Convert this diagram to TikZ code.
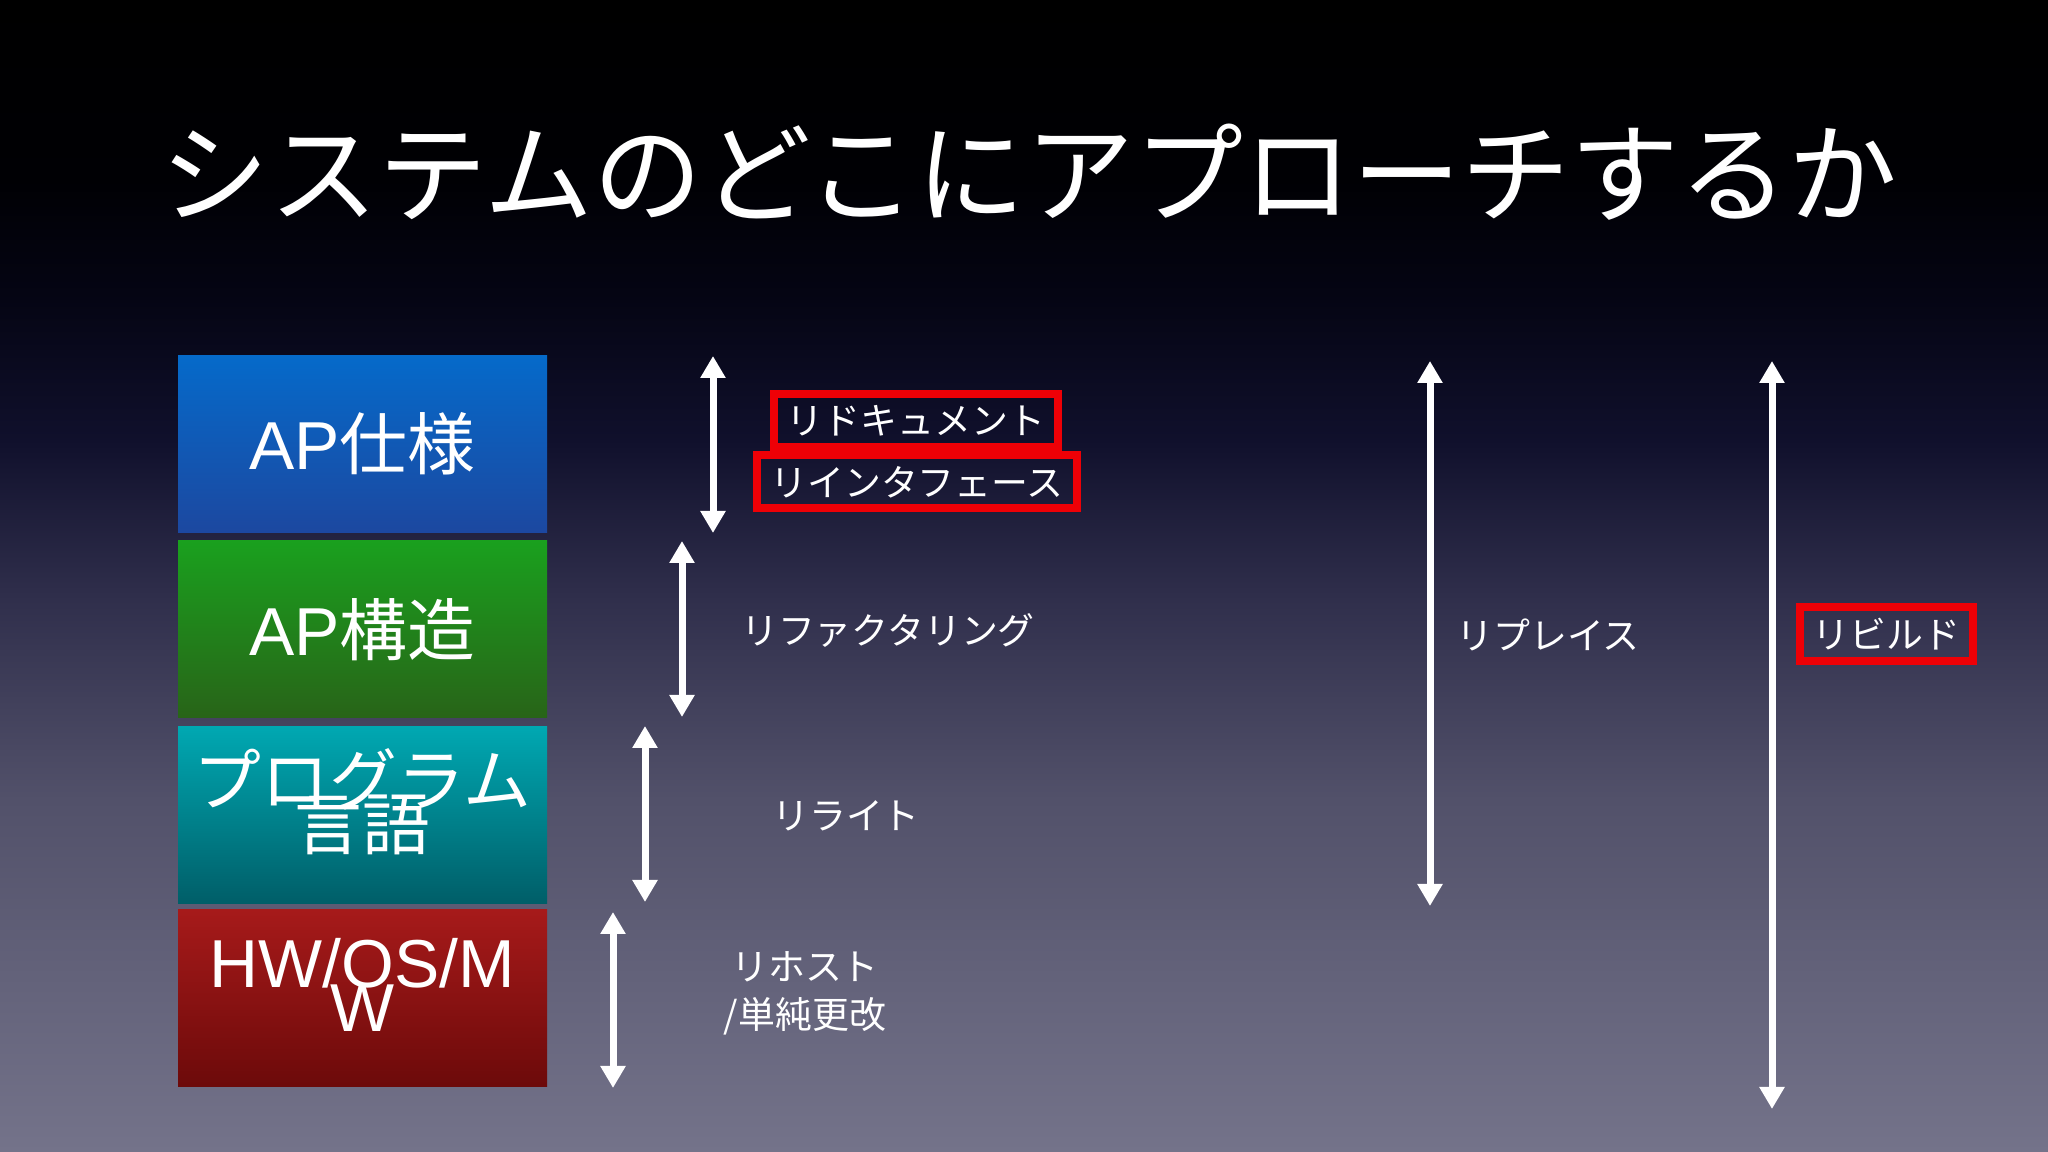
\documentclass[tikz,border=0pt]{standalone}
\usepackage{fontspec}
\setmainfont{Noto Sans CJK JP}
\newfontfamily\arialfont{Liberation Sans}
\usetikzlibrary{arrows.meta}
\newcommand\tightlines{\lineskiplimit-50pt\relax}
\definecolor{slidebot}{RGB}{116,115,138}
\definecolor{slidelow}{RGB}{82,81,106}
\definecolor{slidemid}{RGB}{48,47,76}
\definecolor{slidenavy}{RGB}{16,16,44}
\definecolor{slidedark}{RGB}{5,5,20}
\definecolor{slidetop}{RGB}{0,0,4}
\definecolor{markred}{RGB}{238,0,6}
\definecolor{spectop}{RGB}{5,106,202}
\definecolor{specbot}{RGB}{28,72,160}
\definecolor{structtop}{RGB}{26,160,30}
\definecolor{structbot}{RGB}{40,100,24}
\definecolor{langtop}{RGB}{0,168,178}
\definecolor{langbot}{RGB}{0,94,104}
\definecolor{hwtop}{RGB}{166,26,26}
\definecolor{hwbot}{RGB}{108,10,10}
\pgfdeclareverticalshading{slide}{100bp}{color(0bp)=(slidebot); color(25bp)=(slidebot); color(40.28bp)=(slidelow); color(48.96bp)=(slidemid); color(55.9bp)=(slidenavy); color(61.98bp)=(slidedark); color(67.19bp)=(slidetop); color(75bp)=(black); color(100bp)=(black)}

\begin{document}
\begin{tikzpicture}[
  layer/.style={minimum width=3.69cm, minimum height=1.77cm, inner sep=0pt, text=white, font=\fontsize{19.3}{12.5}\selectfont},
  layername/.style={text=white, align=center, inner sep=0pt, font=\fontsize{19.3}{12.5}\selectfont\tightlines},
  twoway/.style={white, line width=0.07cm, {Triangle[width=0.24cm,length=0.22cm]}-{Triangle[width=0.24cm,length=0.22cm]}},
  approach/.style={text=white, align=center, inner sep=0pt, font=\fontsize{10.5}{13.6}\selectfont\tightlines},
  marked/.style={approach, draw=markred, line width=0.08cm, inner xsep=0.13cm, minimum height=0.53cm}
]
\useasboundingbox (0,0) rectangle (20.48,11.52);
\shade[shading=slide] (0,0) rectangle (20.48,11.52);

\node[text=white, font=\fontsize{31}{36}\selectfont] (title) at (10.29,9.80) {システムのどこにアプローチするか};

\node[layer, top color=spectop, bottom color=specbot] (spec) at (3.625,7.08) {{\arialfont AP}仕様};
\node[layer, top color=structtop, bottom color=structbot] (struct) at (3.625,5.225) {{\arialfont AP}構造};
\node[layer, top color=langtop, bottom color=langbot] (lang) at (3.625,3.37) {};
\node[layer, top color=hwtop, bottom color=hwbot] (hw) at (3.625,1.535) {};
\node[layername] (langname) at ([yshift=0.13cm]lang.center) {プログラム\\言語};
\node[layername] (hwname) at ([yshift=0.14cm]hw.center) {{\arialfont HW/OS/M}\\{\arialfont W}};

\foreach \n/\x/\ya/\yb in {1/7.13/7.96/6.19, 2/6.82/6.11/4.35, 3/6.45/4.26/2.50, 4/6.13/2.40/0.64, 5/14.30/7.91/2.46, 6/17.72/7.91/0.43} {
  \coordinate (top\n) at (\x,\ya);
  \coordinate (bot\n) at (\x,\yb);
  \draw[twoway] (top\n) -- (bot\n);
}

\node[marked] (redoc) at (9.16,7.31) {リドキュメント};
\node[marked] (reif) at (9.17,6.70) {リインタフェース};
\node[approach] (refac) at (8.88,5.22) {リファクタリング};
\node[approach] (rewrite) at (8.46,3.36) {リライト};
\node[approach] (rehost) at (8.05,1.59) {リホスト\\/単純更改};
\node[approach] (replace) at (15.48,5.17) {リプレイス};
\node[marked, minimum height=0.54cm] (rebuild) at (18.865,5.18) {リビルド};
\end{tikzpicture}
\end{document}
